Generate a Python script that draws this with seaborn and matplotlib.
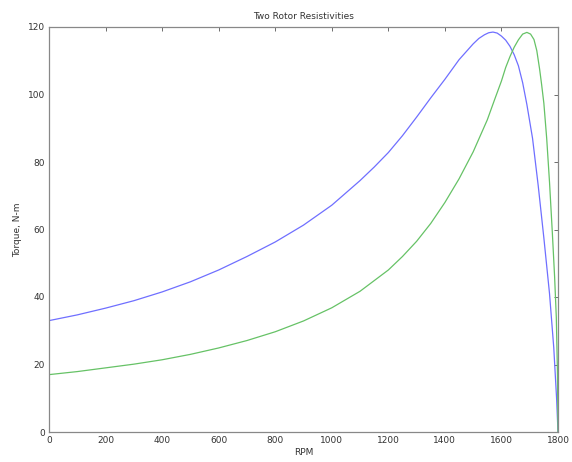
import matplotlib
matplotlib.use("Agg")
import matplotlib.pyplot as plt
import seaborn as sns
import pandas as pd

# Values
blue_rpm = [0, 100, 200, 300, 400, 500, 600, 700, 800, 900, 1000, 1100, 1150,
            1200, 1250, 1300, 1350, 1400, 1450, 1500, 1520, 1540, 1555, 1570,
            1585, 1600, 1615, 1630, 1645, 1660, 1675, 1690, 1710, 1730, 1750,
            1770, 1785, 1795, 1800]
blue_torque = [33.0, 34.7, 36.7, 38.9, 41.5, 44.5, 48.0, 52.0, 56.3, 61.3, 67.2,
               74.5, 78.5, 82.8, 87.8, 93.3, 99.0, 104.5, 110.3, 115.0, 116.6,
               117.7, 118.3, 118.5, 118.2, 117.3, 116.1, 114.3, 111.8, 108.5,
               103.5, 97.0, 87.0, 73.0, 57.5, 41.0, 25.0, 10.0, 0.0]

green_rpm = [0, 100, 200, 300, 400, 500, 600, 700, 800, 900, 1000, 1100, 1200,
             1250, 1300, 1350, 1400, 1450, 1500, 1550, 1575, 1600, 1615, 1630,
             1645, 1660, 1675, 1690, 1703, 1715, 1725, 1735, 1742, 1750, 1760,
             1770, 1780, 1788, 1794, 1798, 1800]
green_torque = [17.0, 17.9, 19.0, 20.1, 21.4, 23.0, 24.9, 27.1, 29.7, 32.9, 36.8,
                41.7, 48.0, 52.0, 56.5, 61.8, 68.0, 75.0, 83.0, 92.5, 98.3, 104.0,
                108.0, 111.2, 114.0, 116.2, 117.9, 118.4, 117.9, 116.3, 113.0,
                107.5, 103.0, 97.4, 87.0, 74.0, 59.0, 46.0, 34.0, 18.0, 0.0]

x_ticks = [0, 200, 400, 600, 800, 1000, 1200, 1400, 1600, 1800]
y_ticks = [0, 20, 40, 60, 80, 100, 120]

title = "Two Rotor Resistivities"
x_label = "RPM"
y_label = "Torque, N-m"

sns.set_style("white")
plt.rcParams['font.family'] = ['DejaVu Sans']

fig = plt.figure(figsize=(5.72, 4.62), dpi=100)
ax = fig.add_axes([49 / 572, 1 - 432 / 462, (558 - 49) / 572, (432 - 27) / 462])

df_b = pd.DataFrame({"rpm": blue_rpm, "torque": blue_torque})
df_g = pd.DataFrame({"rpm": green_rpm, "torque": green_torque})
sns.lineplot(data=df_b, x="rpm", y="torque", ax=ax, color="#6f6fff", linewidth=0.9,
             sort=False, estimator=None)
sns.lineplot(data=df_g, x="rpm", y="torque", ax=ax, color="#66c266", linewidth=0.9,
             sort=False, estimator=None)

ax.set_xlim(0, 1800)
ax.set_ylim(0, 120)
ax.set_xticks(x_ticks)
ax.set_yticks(y_ticks)
ax.tick_params(direction="in", length=3, width=0.6, colors="#555555",
               labelcolor="#333333", labelsize=6.5, top=True, right=True,
               labeltop=False, labelright=False, pad=3)
for s in ax.spines.values():
    s.set_color("#888888")
    s.set_linewidth(0.9)
    s.set_visible(True)

ax.set_title(title, fontsize=6.5, color="#333333", pad=6)
ax.set_xlabel(x_label, fontsize=6.5, color="#333333", labelpad=2)
ax.set_ylabel(y_label, fontsize=6.5, color="#333333", labelpad=4)

fig.savefig("out.png", dpi=100, facecolor="white")
